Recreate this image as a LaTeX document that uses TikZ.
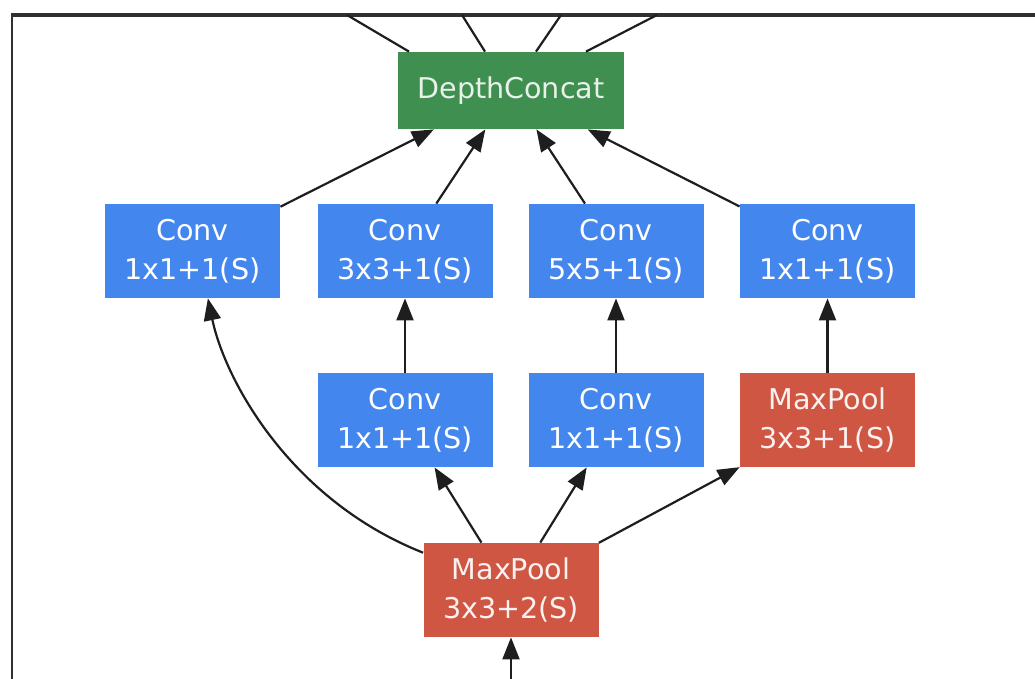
\documentclass[tikz,border=0pt]{standalone}
\usepackage{fontspec}
\setmainfont{DejaVu Sans}
\usetikzlibrary{arrows.meta,calc}

\definecolor{convblue}{HTML}{4286EE}
\definecolor{poolred}{HTML}{CE5642}
\definecolor{concatgreen}{HTML}{3E8F50}
\definecolor{edgegray}{HTML}{1E1E1E}
\definecolor{framegray}{HTML}{303030}

\tikzset{
  layer/.style={rectangle, inner sep=0pt, minimum width=87.5pt, minimum height=47pt,
    text=white, align=center, font=\fontsize{14.3}{19.5}\selectfont},
  conv/.style={layer, fill=convblue},
  pool/.style={layer, fill=poolred, text=white!92!poolred},
  concat/.style={layer, fill=concatgreen, minimum width=113pt, minimum height=38.5pt,
    text=white!88!concatgreen},
  flow/.style={draw=edgegray, line width=1.1pt,
    -{Triangle[length=11pt,width=8.5pt]}},
  feed/.style={draw=edgegray, line width=1.1pt},
  frametop/.style={draw=framegray, line width=1.8pt},
  frameside/.style={draw=framegray, line width=1.2pt}
}

\begin{document}
\begin{tikzpicture}[x=0.5pt, y=-0.5pt]
  \useasboundingbox (0,0) rectangle (1035,679);

  % surrounding frame (top and left edges)
  \draw[frameside] (12,15) -- (12,679);
  \draw[frametop] (1035,15) -- (11,15);

  % layers
  \node[concat] (dc)  at (511,90.5) {DepthConcat};
  \node[conv]   (c1)  at (192.5,251) {Conv\\1x1+1(S)};
  \node[conv]   (c2)  at (405,251)   {Conv\\3x3+1(S)};
  \node[conv]   (c3)  at (616,251)   {Conv\\5x5+1(S)};
  \node[conv]   (c4)  at (827.5,251) {Conv\\1x1+1(S)};
  \node[conv]   (r2)  at (405,420)   {Conv\\1x1+1(S)};
  \node[conv]   (r3)  at (616,420)   {Conv\\1x1+1(S)};
  \node[pool]   (p4)  at (827.5,420) {MaxPool\\3x3+1(S)};
  \node[pool]   (mp)  at (511,590)   {MaxPool\\3x3+2(S)};

  % loose ends leaving the frame
  \coordinate (t1) at (347,15);
  \coordinate (t2) at (462,15);
  \coordinate (t3) at (561,15);
  \coordinate (t4) at (657,15);
  \coordinate (in) at (511,679);

  % outputs of the concat layer
  \draw[feed] ($(dc.north)+(-102,0)$) -- (t1);
  \draw[feed] ($(dc.north)+(-26,0)$)  -- (t2);
  \draw[feed] ($(dc.north)+(25,0)$)   -- (t3);
  \draw[feed] ($(dc.north)+(75,0)$)   -- (t4);

  % branches into the concat layer
  \draw[flow] (c1) -- (dc);
  \draw[flow] (c2) -- (dc);
  \draw[flow] (c3) -- (dc);
  \draw[flow] (c4) -- (dc);

  % reductions feeding the wide convolutions
  \draw[flow] (r2) -- (c2);
  \draw[flow] (r3) -- (c3);
  \draw[flow] (p4) -- (c4);

  % fan-out of the input pooling layer
  \draw[flow] (mp) -- (r2);
  \draw[flow] (mp) -- (r3);
  \draw[flow] (mp) -- (p4);
  \draw[flow] (mp.157) .. controls (290,500) and (225,380) .. (c1.288);

  % incoming edge
  \draw[flow] (in) -- (mp);
\end{tikzpicture}
\end{document}
